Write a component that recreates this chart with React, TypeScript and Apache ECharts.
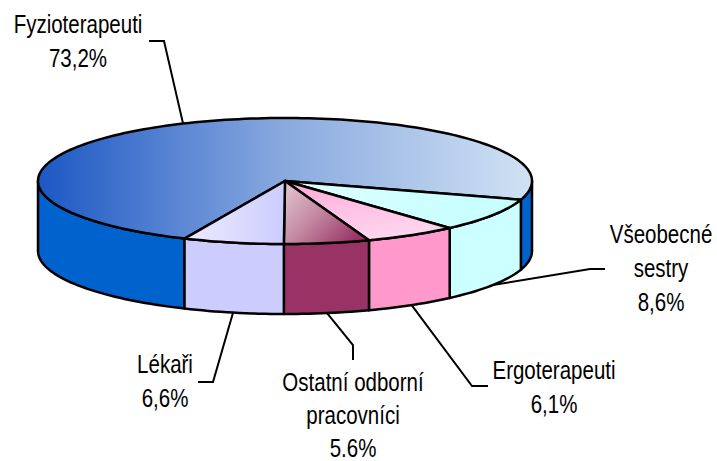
import React, { useEffect, useRef } from "react";
import * as echarts from "echarts";

const categories = ["Fyzioterapeuti", "Všeobecné\nsestry", "Ergoterapeuti", "Ostatní odborní\npracovníci", "Lékaři"];
const values = [73.2, 8.6, 6.1, 5.6, 6.6];
const valueLabels = ["73,2%", "8,6%", "6,1%", "5.6%", "6,6%"];

// styling (not data)
const topFills = [
  { x: 0, y: 0, x2: 1, y2: 0, stops: ["#1b57c4", "#8aaadf", "#d0e2f4"] },
  { x: 0, y: 0, x2: 1, y2: 0, stops: ["#e2ffff", "#cfffff", "#c6ffff"] },
  { x: 0, y: 0, x2: 0.4, y2: 1, stops: ["#ffa6d6", "#ffc0e4", "#ffd4ee"] },
  { x: 0, y: 0, x2: 1, y2: 0.7, stops: ["#e6c8d2", "#c48aa2", "#993366"] },
  { x: 0, y: 0, x2: 1, y2: 0, stops: ["#ececff", "#dcdcff", "#ccccff"] },
];
const sideFills = ["#0062cc", "#ccffff", "#ff99cc", "#993366", "#ccccff"];
// label layout: text center x, first line center y, line spacing, elbow points (from anchor outward)
const labelLayout = [
  { x: 78, y: 24, gap: 34, pts: [[164, 41], [149, 41]] },
  { x: 661, y: 234, gap: 34, pts: [[590, 269], [605, 269]] },
  { x: 554, y: 370, gap: 34, pts: [[472, 386], [488, 386]] },
  { x: 353, y: 382, gap: 33, pts: [[353, 345], [353, 360]] },
  { x: 165, y: 364, gap: 34, pts: [[213, 382], [198, 382]] },
];

const CX = 285, CY = 181, RX = 247, RY = 63, DEPTH = 70, START = 114;
const FONT = "25px 'Liberation Sans', Arial, sans-serif";
const NARROW = 0.82;

const rad = (d: number) => (d * Math.PI) / 180;
function arcPts(a: number, b: number, yOff: number): number[][] {
  const n = Math.max(2, Math.ceil((b - a) / 1.5));
  const pts: number[][] = [];
  for (let k = 0; k <= n; k++) {
    const t = rad(a + ((b - a) * k) / n);
    pts.push([CX + RX * Math.cos(t), CY + yOff + RY * Math.sin(t)]);
  }
  return pts;
}

export default function App() {
  const ref = useRef<HTMLDivElement>(null);
  useEffect(() => {
    if (!ref.current) return;
    const chart = echarts.init(ref.current, null, { renderer: "svg" });
    const total = values.reduce((s, v) => s + v, 0);
    const angles: number[][] = [];
    let acc = 0;
    values.forEach((v) => {
      const a0 = START + (acc / total) * 360;
      acc += v;
      const a1 = START + (acc / total) * 360;
      angles.push([a0, a1]);
    });

    const renderItem = (params: any) => {
      const i = params.dataIndex;
      const [a0, a1] = angles[i];
      const children: any[] = [];
      const ranges = [[0, 180], [360, 540]];
      ranges.forEach(([r0, r1]) => {
        const s = Math.max(a0, r0), e = Math.min(a1, r1);
        if (e > s + 0.01) {
          const pts = arcPts(s, e, 0).concat(arcPts(s, e, DEPTH).reverse());
          children.push({
            type: "polygon",
            shape: { points: pts },
            style: { fill: sideFills[i], stroke: "#000", lineWidth: 2.5, lineJoin: "round" },
          });
        }
      });
      const f = topFills[i];
      const topPts = [[CX, CY]].concat(arcPts(a0, a1, 0));
      children.push({
        type: "polygon",
        shape: { points: topPts },
        style: {
          fill: {
            type: "linear", x: f.x, y: f.y, x2: f.x2, y2: f.y2,
            colorStops: f.stops.map((c, k) => ({ offset: k / (f.stops.length - 1), color: c })),
          },
          stroke: "#000", lineWidth: 2.5, lineJoin: "round",
        },
        z2: 5,
      });
      const mid = rad((a0 + a1) / 2);
      const front = Math.sin(mid) > 0;
      const anchor = [CX + RX * Math.cos(mid), CY + (front ? DEPTH : 0) + RY * Math.sin(mid)];
      const L = labelLayout[i];
      children.push({
        type: "polyline",
        shape: { points: [anchor].concat(L.pts) },
        style: { fill: "none", stroke: "#000", lineWidth: 2 },
        z2: 1,
      });
      const lines = (categories[i] + "\n" + valueLabels[i]).split("\n");
      lines.forEach((ln, k) => {
        children.push({
          type: "text",
          x: L.x,
          y: L.y + k * L.gap,
          scaleX: NARROW,
          style: {
            text: ln,
            font: FONT,
            fill: "#000",
            align: "center",
            verticalAlign: "middle",
            lineHeight: 25,
          },
          z2: 10,
        });
      });
      return { type: "group", children };
    };

    chart.setOption({
      animation: false,
      backgroundColor: "#fff",
      series: [
        {
          type: "custom",
          coordinateSystem: "none",
          silent: true,
          data: values,
          renderItem,
        },
      ],
    });
    return () => chart.dispose();
  }, []);
  return <div ref={ref} style={{ position: "fixed", left: 0, top: 0, width: 717, height: 461 }} />;
}
